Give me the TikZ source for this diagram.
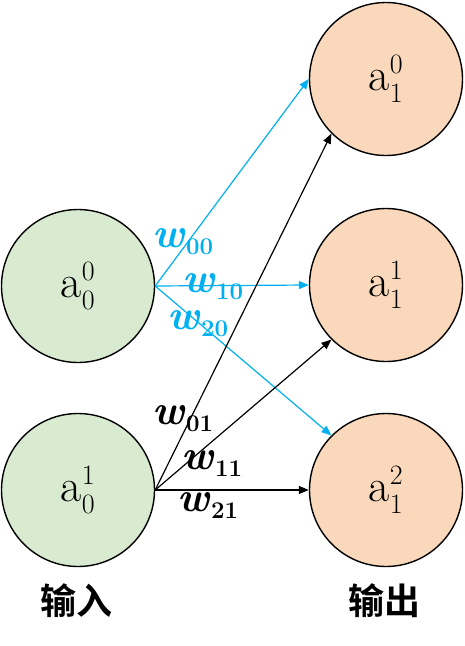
\RequirePackage{fix-cm}
\documentclass[tikz,border=0pt]{standalone}
\usepackage{fontspec}
\newfontfamily\cjk{Noto Sans CJK SC}[BoldFont={Noto Sans CJK SC Bold}]
\usetikzlibrary{arrows.meta}
\DeclareMathSizes{46}{46}{28}{20}
\definecolor{ingreen}{RGB}{216,234,208}
\definecolor{outorange}{RGB}{249,216,187}
\definecolor{wblue}{RGB}{0,176,240}
\newcommand{\wl}[1]{{\fontsize{42}{44}\selectfont\textbf{\textit{w}}}\raisebox{-7pt}{\fontsize{24}{26}\selectfont\textbf{#1}}}
\tikzset{
 neuron/.style={circle, draw=black, line width=1.4pt, minimum size=153pt, inner sep=0pt, font=\fontsize{46}{48}\selectfont},
 innode/.style={neuron, fill=ingreen},
 outnode/.style={neuron, fill=outorange},
 conn/.style={line width=1.2pt, -{Triangle[length=10pt,width=8pt]}},
 blueconn/.style={conn, draw=wblue},
 blackconn/.style={conn, draw=black},
 wlab/.style={inner sep=0pt},
 cjklab/.style={font=\cjk\bfseries\fontsize{36}{40}\selectfont, inner sep=0pt}
}
\begin{document}
\begin{tikzpicture}[x=1pt,y=-1pt]
\useasboundingbox (0,0) rectangle (464,646);
\node[innode] (i0) at (78,286) {$\mathrm{a}_0^0$};
\node[innode] (i1) at (78,490) {$\mathrm{a}_0^1$};
\node[outnode] (o0) at (386,79) {$\mathrm{a}_1^0$};
\node[outnode] (o1) at (386,285) {$\mathrm{a}_1^1$};
\node[outnode] (o2) at (386,490) {$\mathrm{a}_1^2$};
\draw[blueconn] (i0.east) -- (o0.west);
\draw[blueconn] (i0.east) -- (o1.west);
\draw[blueconn] (i0.east) -- (o2.north west);
\draw[blackconn] (i1.east) -- (o0.south west);
\draw[blackconn] (i1.east) -- (o1.south west);
\draw[blackconn] (i1.east) -- (o2.west);
\node[wlab, text=wblue] (w00) at (183,242) {\wl{00}};
\node[wlab, text=wblue] (w10) at (213,287) {\wl{10}};
\node[wlab, text=wblue] (w20) at (198,324) {\wl{20}};
\node[wlab] (w01) at (183,419) {\wl{01}};
\node[wlab] (w11) at (212,463) {\wl{11}};
\node[wlab] (w21) at (208,505) {\wl{21}};
\node[cjklab] (lin) at (77,601) {输入};
\node[cjklab] (lout) at (384,601) {输出};
\end{tikzpicture}
\end{document}
